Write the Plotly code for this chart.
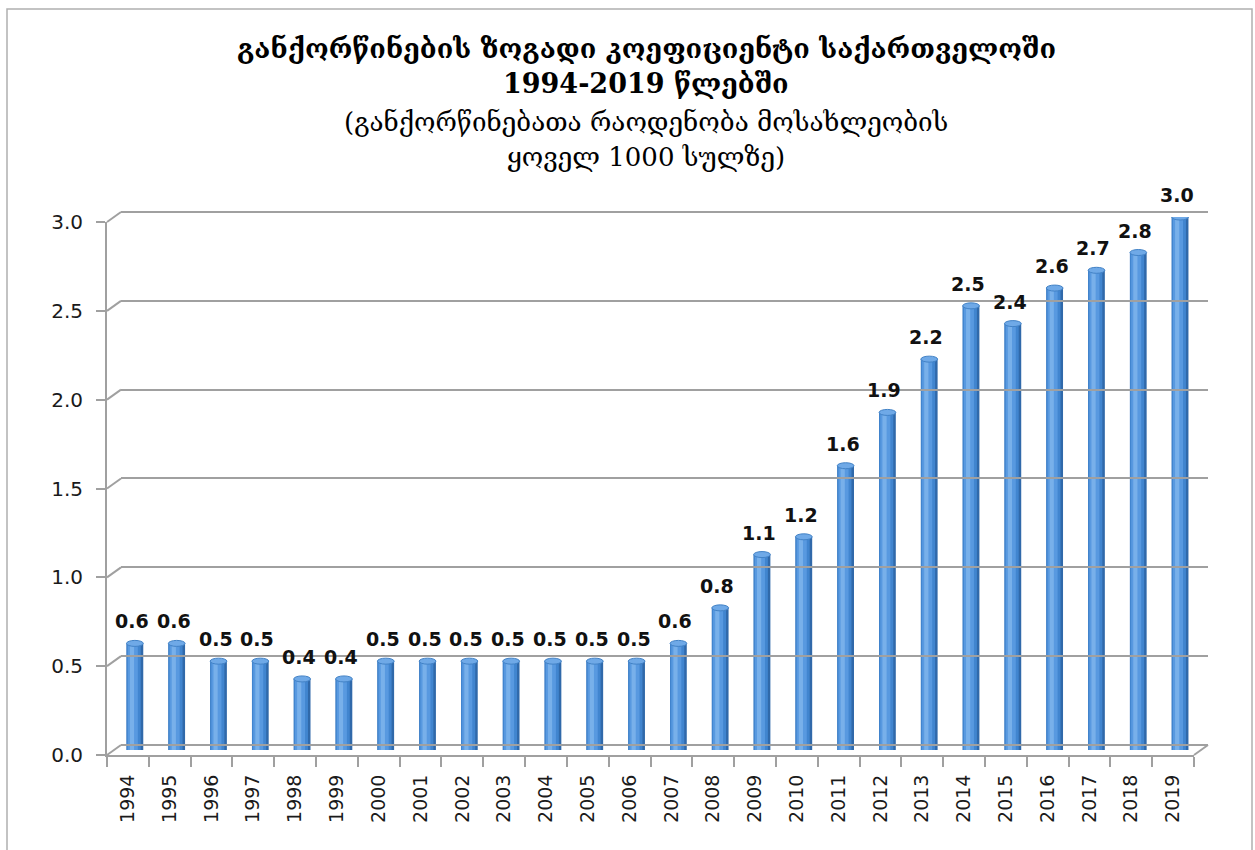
import plotly.graph_objects as go

W, H = 1255, 850

years = [str(y) for y in range(1994, 2020)]
values = [0.6, 0.6, 0.5, 0.5, 0.4, 0.4, 0.5, 0.5, 0.5, 0.5, 0.5, 0.5, 0.5,
          0.6, 0.8, 1.1, 1.2, 1.6, 1.9, 2.2, 2.5, 2.4, 2.6, 2.7, 2.8, 3.0]
value_labels = [f"{v:.1f}" for v in values]
ytick_vals = [0, 0.5, 1.0, 1.5, 2.0, 2.5, 3.0]
ytick_text = ["0.0", "0.5", "1.0", "1.5", "2.0", "2.5", "3.0"]
title_lines = [
    "<b>განქორწინების ზოგადი კოეფიციენტი საქართველოში</b>",
    "<b>1994-2019 წლებში</b>",
    "(განქორწინებათა რაოდენობა მოსახლეობის",
    "ყოველ 1000 სულზე)",
]

# ---- geometry (pixels) ----
YMAX = 3.0
FRONT = dict(x0=107, x1=1194, y0=755, y3=222)
DX, DY = 14, -10
BACK = dict(x0=FRONT["x0"] + DX, x1=FRONT["x1"] + DX, y0=FRONT["y0"] + DY, y3=FRONT["y3"] + DY)
MID = dict(x0=FRONT["x0"] + DX / 2, x1=FRONT["x1"] + DX / 2, y0=FRONT["y0"] + DY / 2, y3=FRONT["y3"] + DY / 2)


def px(x):
    return x / W


def py(y):
    return 1 - y / H


def ydom(plane, r0, r1):
    s = (plane["y0"] - plane["y3"]) / YMAX
    return [py(plane["y0"] - r0 * s), py(plane["y0"] - r1 * s)]


def ypix(plane, v):
    s = (plane["y0"] - plane["y3"]) / YMAX
    return plane["y0"] - v * s


GRID = "#a0a0a0"
TXT = "#1a1a1a"
SANS = "DejaVu Sans"
SERIF = "DejaVu Serif"

fig = go.Figure()

# cylinder-like shaded bars (mid plane)
layers = [
    (0.40, -0.20, "#3069aa"),
    (0.34, -0.20, "#4185cf"),
    (0.24, -0.17, "#5899e0"),
    (0.10, -0.12, "#78b0ea"),
]
for w, off, col in layers:
    fig.add_trace(go.Bar(
        x=years, y=values, width=w, offset=off,
        marker=dict(color=col, line=dict(width=0)),
        xaxis="x", yaxis="y", hoverinfo="skip", showlegend=False,
    ))

# back wall subplot (gridlines)
fig.add_trace(go.Scatter(x=years, y=values, mode="markers", marker=dict(opacity=0),
                         xaxis="x2", yaxis="y2", hoverinfo="skip", showlegend=False))
# front subplot (axes + labels)
fig.add_trace(go.Scatter(x=years, y=values, mode="markers", marker=dict(opacity=0),
                         xaxis="x3", yaxis="y3", hoverinfo="skip", showlegend=False))

shapes = []
# cylinder tops (ellipses)
s_mid = (MID["y0"] - MID["y3"]) / YMAX
e = 3.0 / s_mid
for i, v in enumerate(values):
    shapes.append(dict(type="circle", xref="x", yref="y", x0=i - 0.20, x1=i + 0.20,
                       y0=v - e, y1=v + e, fillcolor="#6fa9e7",
                       line=dict(color="#4282c6", width=1), layer="above"))

# diagonal connectors from front axis to back wall
for v in ytick_vals:
    shapes.append(dict(type="line", xref="paper", yref="paper",
                       x0=px(FRONT["x0"]), y0=py(ypix(FRONT, v)),
                       x1=px(BACK["x0"]), y1=py(ypix(BACK, v)),
                       line=dict(color=GRID, width=2), layer="below"))
shapes.append(dict(type="line", xref="paper", yref="paper",
                   x0=px(FRONT["x1"]), y0=py(ypix(FRONT, 0)),
                   x1=px(BACK["x1"]), y1=py(ypix(BACK, 0)),
                   line=dict(color=GRID, width=2), layer="below"))
# chart border
shapes.append(dict(type="rect", xref="paper", yref="paper",
                   x0=px(7), x1=px(1252), y0=py(9), y1=py(860),
                   line=dict(color="#b0b0b0", width=1.5), fillcolor="rgba(0,0,0,0)"))

annotations = []
for i, (v, t) in enumerate(zip(values, value_labels)):
    annotations.append(dict(x=i, y=v, xref="x", yref="y", text=f"<b>{t}</b>",
                            showarrow=False, yanchor="bottom", yshift=9, xshift=-3,
                            font=dict(family=SANS, size=19, color="#111111")))

title_y = [48, 83, 122, 157]
title_size = [27, 27, 26, 26]
for line, yy, fs in zip(title_lines, title_y, title_size):
    annotations.append(dict(x=px(646), y=py(yy), xref="paper", yref="paper", text=line,
                            showarrow=False, xanchor="center", yanchor="middle",
                            font=dict(family=SERIF, size=fs, color="#000000")))

pad = 0.02
fig.update_layout(
    template="none",
    width=W, height=H, autosize=False,
    margin=dict(l=0, r=0, t=0, b=0, pad=0, autoexpand=False),
    paper_bgcolor="white", plot_bgcolor="rgba(0,0,0,0)",
    barmode="overlay",
    showlegend=False,
    shapes=shapes,
    annotations=annotations,
    xaxis=dict(domain=[px(MID["x0"]), px(MID["x1"])], range=[-0.5, 25.5], type="category",
               visible=False, anchor="y", automargin=False),
    yaxis=dict(domain=ydom(MID, 0, YMAX), range=[0, YMAX], visible=False, anchor="x",
               automargin=False),
    xaxis2=dict(domain=[px(BACK["x0"]), px(BACK["x1"])], range=[-0.5, 25.5], type="category",
                visible=False, anchor="y2", automargin=False),
    yaxis2=dict(domain=ydom(BACK, -pad, YMAX + pad), range=[-pad, YMAX + pad], anchor="x2",
                showgrid=True, gridcolor=GRID, gridwidth=2, tickvals=ytick_vals,
                showticklabels=False, zeroline=False, showline=False, ticks="",
                automargin=False),
    xaxis3=dict(domain=[px(FRONT["x0"]), px(FRONT["x1"])], range=[-0.5, 25.5], type="category",
                anchor="y3", showline=True, linecolor=GRID, linewidth=2,
                ticks="outside", tickson="boundaries", ticklen=10, tickcolor=GRID, tickwidth=2,
                tickangle=-90, ticklabelstandoff=10, showgrid=False, zeroline=False,
                automargin=False,
                tickfont=dict(family=SANS, size=19, color=TXT)),
    yaxis3=dict(domain=ydom(FRONT, 0, YMAX), range=[0, YMAX], anchor="x3",
                showline=True, linecolor=GRID, linewidth=2, showgrid=False, zeroline=False,
                ticks="outside", ticklen=9, tickcolor=GRID, tickwidth=2,
                tickvals=ytick_vals, ticktext=ytick_text, ticklabelstandoff=9,
                automargin=False,
                tickfont=dict(family=SANS, size=20, color=TXT)),
)

fig.write_html(
    "out.html",
    config={"displayModeBar": False},
    post_script="document.body.style.margin='0';document.body.style.overflow='hidden';",
)
